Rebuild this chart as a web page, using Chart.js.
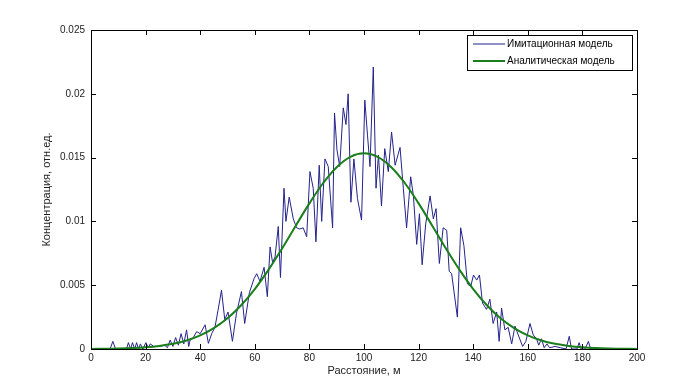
<!DOCTYPE html>
<html>
<head>
<meta charset="utf-8">
<script src="https://cdn.jsdelivr.net/npm/chart.js@4/dist/chart.umd.min.js"></script>
<style>
  html, body { margin: 0; padding: 0; background: #fff; }
  #chart { display: block; }
</style>
</head>
<body>
<canvas id="chart" width="700" height="392"></canvas>
<script>
// Имитационная модель (шумная кривая), расстояние в м
const simDist = [
  0, 7, 8, 9, 13, 13.7, 14.5, 15.2, 16, 16.7, 17.4, 18.1, 19, 20.1, 21, 21.7, 23, 25, 27, 28,
  29, 30, 31, 32, 33, 34, 35, 35.8, 36.3, 37.5, 38.7, 40, 41.8, 43, 44.2, 45.4, 46.5, 47.8, 49, 50.2,
  51.8, 53.3, 55.1, 56.3, 58, 59.7, 60.7, 61.9, 63.4, 64.6, 65.6, 66.5, 67.4, 68.6, 69.4, 70.7, 71.4, 72.6, 74.1, 75.3,
  76.5, 77.7, 79, 80.2, 81.4, 82.4, 83.6, 84.5, 85.7, 86.9, 88.5, 89.2, 90.1, 91.1, 92.4, 93.4, 94.2, 95.2, 96.3, 97.6,
  99.1, 100.3, 101.3, 102.2, 103.4, 104.4, 105.3, 106.4, 107.6, 108.9, 110.1, 111.4, 113.2, 114.4, 115.6, 117.1, 118.1, 119.3, 120.3, 121.3,
  122.6, 124.2, 125.4, 126.4, 127.6, 129, 130.3, 131.2, 132.1, 134.2, 135.4, 136.6, 137.9, 139.1, 140.1, 141.3, 142.3, 143.4, 144.9, 146.1,
  147.3, 148.6, 149.5, 150.4, 151.6, 152.8, 154.1, 155.3, 156.5, 158.1, 159.3, 160.8, 162, 163.2, 164, 165, 166, 167, 168, 170,
  172, 174, 175.2, 176, 178, 178.8, 179.5, 181, 182.2, 183, 200
];
const simConc = [
  0, 0, 0.0006, 0, 0, 0.0005, 0, 0.0005, 0, 0.0005, 0, 0.0004, 0, 0.0005, 0.0001, 0.0004, 0.0002, 0.0002, 0.0003, 0.0001,
  0.0007, 0.0002, 0.0009, 0.0003, 0.0012, 0.0004, 0.0015, 0.0002, 0.0007, 0.0009, 0.00136, 0.0012, 0.0019, 0.00044, 0.0012, 0.0017, 0.003, 0.0046, 0.0023, 0.0029,
  0.0006, 0.0028, 0.0045, 0.002, 0.0044, 0.0055, 0.0059, 0.0053, 0.0064, 0.0041, 0.008, 0.0068, 0.0072, 0.0096, 0.0056, 0.0126, 0.01, 0.0119, 0.0102, 0.0095,
  0.0094, 0.0095, 0.0088, 0.0139, 0.0126, 0.0084, 0.0144, 0.01, 0.0149, 0.0143, 0.0095, 0.0185, 0.0156, 0.0143, 0.0189, 0.0176, 0.02, 0.0115, 0.0149, 0.0118,
  0.0101, 0.0195, 0.0167, 0.0143, 0.0221, 0.0126, 0.0152, 0.0112, 0.0157, 0.0139, 0.017, 0.0144, 0.0158, 0.0126, 0.0095, 0.0135, 0.012, 0.0082, 0.0106, 0.0066,
  0.0098, 0.012, 0.0102, 0.011, 0.0067, 0.0095, 0.0093, 0.0061, 0.0059, 0.0025, 0.0095, 0.0081, 0.0051, 0.0049, 0.0058, 0.0054, 0.0058, 0.0036, 0.0031, 0.0039,
  0.002, 0.0029, 0.0006, 0.0032, 0.0015, 0.0017, 0.0004, 0.0018, 0.0011, 0.0002, 0.0006, 0.002, 0.0011, 0.0008, 0.0003, 0.0008, 0.0001, 0.0004, 0.0001, 0.0002,
  0.0001, 0, 0.001, 0, 0, 0.0005, 0, 0, 0.0006, 0, 0
];

// Аналитическая модель
const anDist = [
  0, 5, 10, 15, 20, 25, 30, 35, 40, 45, 50, 55, 60, 65, 70, 75, 80, 85, 90, 95, 100,
  105, 110, 115, 120, 125, 130, 135, 140, 145, 150, 155, 160, 165, 170, 175, 180, 185, 190, 195, 200
];
const anConc = [
  0.000009, 0.000019, 0.000038, 0.000073, 0.000135, 0.00024, 0.00041, 0.00067, 0.00107, 0.00164, 0.00241,
  0.00343, 0.0047, 0.0062, 0.00788, 0.00966, 0.01141, 0.01299, 0.01425, 0.01506, 0.01534,
  0.01506, 0.01425, 0.01299, 0.01141, 0.00966, 0.00788, 0.0062, 0.0047, 0.00343, 0.00241,
  0.00164, 0.00107, 0.00067, 0.00041, 0.00024, 0.000135, 0.000073, 0.000038, 0.000019, 0.000009
];

const xTicks = [0, 20, 40, 60, 80, 100, 120, 140, 160, 180, 200];
const yTicks = [0, 0.005, 0.01, 0.015, 0.02, 0.025];

const seriesNames = ['Имитационная модель', 'Аналитическая модель'];
const seriesColors = ['#23238a', '#1b7d1b'];

const FONT = 'Liberation Sans, Arial, sans-serif';

// рамка, внутренние засечки и легенда в стиле MATLAB
const matlabBox = {
  id: 'matlabBox',
  afterDraw(chart) {
    const { ctx, chartArea: a, scales: { x, y } } = chart;
    ctx.save();
    ctx.strokeStyle = '#000';
    ctx.lineWidth = 1;
    ctx.strokeRect(a.left + 0.5, a.top + 0.5, a.right - a.left, a.bottom - a.top);
    ctx.beginPath();
    xTicks.forEach(v => {
      const px = Math.round(x.getPixelForValue(v)) + 0.5;
      ctx.moveTo(px, a.bottom); ctx.lineTo(px, a.bottom - 5);
      ctx.moveTo(px, a.top); ctx.lineTo(px, a.top + 5);
    });
    yTicks.forEach(v => {
      const py = Math.round(y.getPixelForValue(v)) + 0.5;
      ctx.moveTo(a.left, py); ctx.lineTo(a.left + 5, py);
      ctx.moveTo(a.right, py); ctx.lineTo(a.right - 5, py);
    });
    ctx.stroke();

    // легенда
    const lx = 467, ly = 35, lw = 165, lh = 35;
    ctx.fillStyle = '#fff';
    ctx.fillRect(lx, ly, lw, lh);
    ctx.strokeRect(lx + 0.5, ly + 0.5, lw, lh);
    ctx.font = '10px ' + FONT;
    ctx.textBaseline = 'middle';
    seriesNames.forEach((name, i) => {
      const yy = ly + 9 + i * 17;
      ctx.strokeStyle = seriesColors[i];
      ctx.lineWidth = i === 0 ? 1 : 2;
      ctx.beginPath();
      ctx.moveTo(lx + 6, yy); ctx.lineTo(lx + 38, yy);
      ctx.stroke();
      ctx.fillStyle = '#000';
      ctx.fillText(name, lx + 40, yy);
    });
    ctx.restore();
  }
};

new Chart(document.getElementById('chart'), {
  type: 'line',
  data: {
    datasets: [
      {
        label: seriesNames[1],
        data: anDist.map((d, i) => ({ x: d, y: anConc[i] })),
        borderColor: seriesColors[1],
        borderWidth: 2,
        tension: 0.4,
        pointRadius: 0,
        order: 0
      },
      {
        label: seriesNames[0],
        data: simDist.map((d, i) => ({ x: d, y: simConc[i] })),
        borderColor: seriesColors[0],
        borderWidth: 1,
        tension: 0,
        pointRadius: 0,
        order: 1
      }
    ]
  },
  options: {
    responsive: false,
    animation: false,
    layout: { padding: { top: 30, right: 63, left: 0, bottom: 0 } },
    plugins: { legend: { display: false }, tooltip: { enabled: false } },
    scales: {
      x: {
        type: 'linear',
        min: 0,
        max: 200,
        afterBuildTicks: s => { s.ticks = xTicks.map(v => ({ value: v })); },
        afterFit: s => { s.height = 43; },
        grid: { display: false, drawTicks: false },
        border: { display: false },
        ticks: { padding: 3, color: '#222', font: { family: FONT, size: 10 }, maxRotation: 0 },
        title: {
          display: true,
          text: 'Расстояние, м',
          color: '#222',
          font: { family: FONT, size: 11 },
          padding: { top: 0, bottom: 14 }
        }
      },
      y: {
        min: 0,
        max: 0.025,
        afterBuildTicks: s => { s.ticks = yTicks.map(v => ({ value: v })); },
        afterFit: s => { s.width = 91; },
        grid: { display: false, drawTicks: false },
        border: { display: false },
        ticks: {
          padding: 6,
          color: '#222',
          font: { family: FONT, size: 10 },
          callback: v => String(Number(v.toFixed(3)))
        },
        title: {
          display: true,
          text: 'Концентрация, отн.ед.',
          color: '#222',
          font: { family: FONT, size: 11 },
          padding: { top: 40, bottom: 0 }
        }
      }
    }
  },
  plugins: [matlabBox]
});
</script>
</body>
</html>
